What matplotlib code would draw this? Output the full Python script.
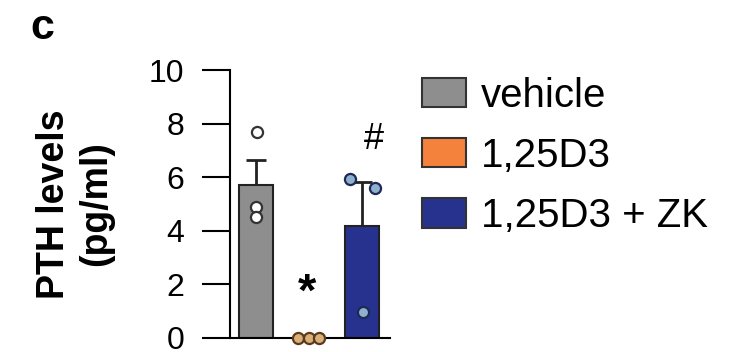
import numpy as np
import matplotlib.pyplot as plt
from matplotlib.patches import Patch

plt.rcParams['font.family'] = ['Liberation Sans', 'DejaVu Sans']

groups = ['vehicle', '1,25D3', '1,25D3 + ZK']
colors = ['#8e8e8e', '#f5823c', '#27328f']
point_fill = ['#ffffff', '#dcae78', '#8fb0cc']
point_edge = ['#333333', '#5a3b1e', '#1c2a55']

# individual measurements (pg/ml) and their horizontal jitter
points = [[7.7, 4.9, 4.5], [0.0, 0.0, 0.0], [5.95, 5.6, 0.95]]
jitter = [[0.02, 0.0, 0.0], [-0.2, 0.0, 0.2], [-0.23, 0.25, 0.02]]
means = [5.7, 0.0, 4.17]
sems = [0.95, 0.0, 1.65]
marks = ['', '*', '#']
mark_x = [0, -0.04, 0.22]
mark_y = [0, 1.65, 7.4]


def main():
    fig = plt.figure(figsize=(7.3, 3.52), dpi=100)
    ax = fig.add_axes([0.315, 0.04, 0.219, 0.761])
    x = np.arange(len(groups))

    ax.bar(x, means, width=0.64, color=colors, edgecolor='#222222', linewidth=1.5, zorder=2)
    for i in range(len(groups)):
        if sems[i] > 0:
            ax.errorbar(x[i], means[i], yerr=[[0], [sems[i]]], color='#222222', elinewidth=2,
                        capsize=7, capthick=2, zorder=1)
        ax.plot(x[i] + np.array(jitter[i]), points[i], 'o', ms=8, mfc=point_fill[i],
                mec=point_edge[i], mew=1.6, zorder=3, clip_on=False)
        if marks[i]:
            ax.text(x[i] + mark_x[i], mark_y[i], marks[i], ha='center', va='center',
                    fontsize=34 if marks[i] == '*' else 26, fontweight='bold' if marks[i] == '*' else 'normal')

    ax.set_xlim(-0.49, 2.53)
    ax.set_ylim(0, 10)
    ax.set_yticks([0, 2, 4, 6, 8, 10])
    ax.set_xticks([])
    ax.spines['top'].set_visible(False)
    ax.spines['right'].set_visible(False)
    ax.spines['left'].set_linewidth(1.5)
    ax.spines['bottom'].set_linewidth(1.5)
    ax.tick_params(axis='y', length=20, width=1.5, pad=13, labelsize=23)
    ax.set_ylabel('PTH levels\n(pg/ml)', fontsize=27, fontweight='bold', labelpad=25, linespacing=1.2)

    handles = [Patch(facecolor=c, edgecolor='#333333', linewidth=1.5) for c in colors]
    fig.legend(handles, groups, loc='upper left', bbox_to_anchor=(0.578, 0.782), frameon=False,
               fontsize=29, handlelength=1.1, handleheight=0.74, handletextpad=0.36,
               labelspacing=0.55, borderpad=0, borderaxespad=0)

    fig.text(0.042, 0.92, 'c', fontsize=31, fontweight='bold', va='center')
    fig.savefig('out.png', dpi=100)


if __name__ == "__main__":
    main()
